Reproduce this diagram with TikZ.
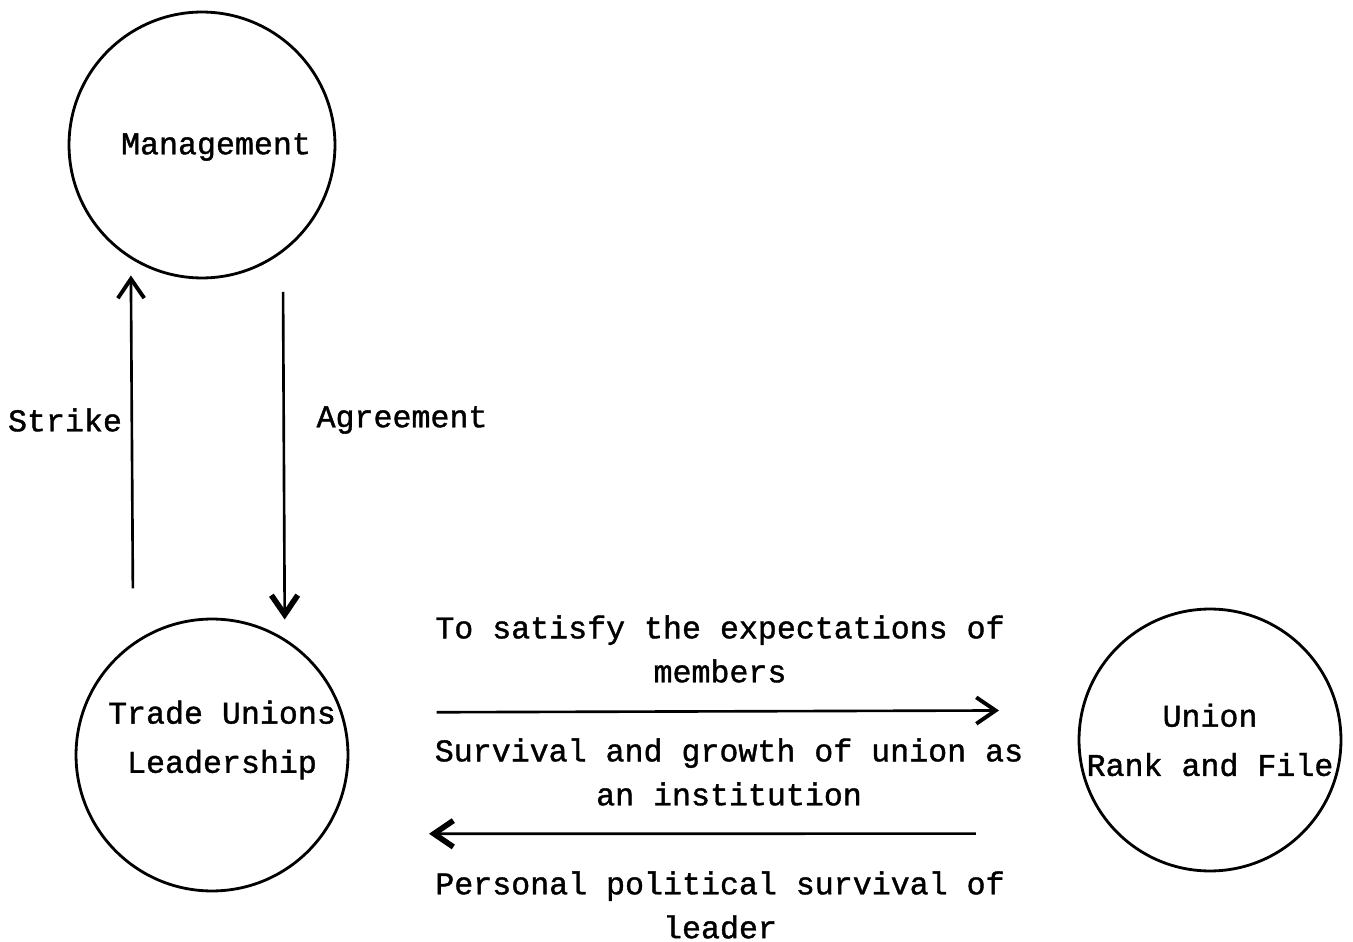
\documentclass[tikz,border=0pt]{standalone}
\usepackage{fontspec}
\setmainfont{Liberation Mono}[FakeBold=1.2]
\usetikzlibrary{arrows.meta}
\newcommand{\tw}{\fontsize{18}{25}\selectfont}
\newcommand{\twc}{\fontsize{18}{28}\selectfont}

\begin{document}
\begin{tikzpicture}[x=0.02cm,y=-0.02cm,
   ring/.style={draw,circle,line width=1.6pt,inner sep=0pt},
   lbl/.style={font=\tw,align=center,inner sep=0pt},
   arr/.style={line width=1.5pt,-{Straight Barb[length=11pt,width=15pt,line width=2.2pt]}},
   heavy/.style={line width=1.5pt,-{Straight Barb[length=11pt,width=15pt,line width=3.2pt]}}]
   \useasboundingbox (0,0) rectangle (1353,942);
   \node[ring,minimum size=5.32cm] (mgmt) at (202,145) {};
   \node[ring,minimum size=5.44cm] (lead) at (212,755) {};
   \node[ring,minimum size=5.24cm,font=\twc,align=center] (rank) at (1210,740) {Union\\Rank and File};
   \node[lbl] (mgmttext) at (216,147) {Management};
   \node[lbl,font=\twc] (leadtext) at (222,740) {Trade Unions\\Leadership};
   \draw[arr,shorten <=1.08cm,shorten >=0.33cm] (lead.125.5) -- (mgmt.238.7);
   \draw[heavy,shorten <=0.79cm,shorten >=0.38cm] (mgmt.307.5) -- (lead.58.5);
   \draw[arr,shorten <=1.88cm,shorten >=1.64cm] (lead.18.4) -- (rank.167.6);
   \draw[heavy,shorten <=2.81cm,shorten >=2.09cm] (rank.225.7) -- (lead.325);
   \node[lbl] (strike) at (65,420) {Strike};
   \node[lbl] (agree) at (402,420) {Agreement};
   \node[lbl] (satisfy) at (720,649) {To satisfy the expectations of\\members};
   \node[lbl] (survival) at (729,772) {Survival and growth of union as\\an institution};
   \node[lbl] (personal) at (720,905) {Personal political survival of\\leader};
\end{tikzpicture}
\end{document}
